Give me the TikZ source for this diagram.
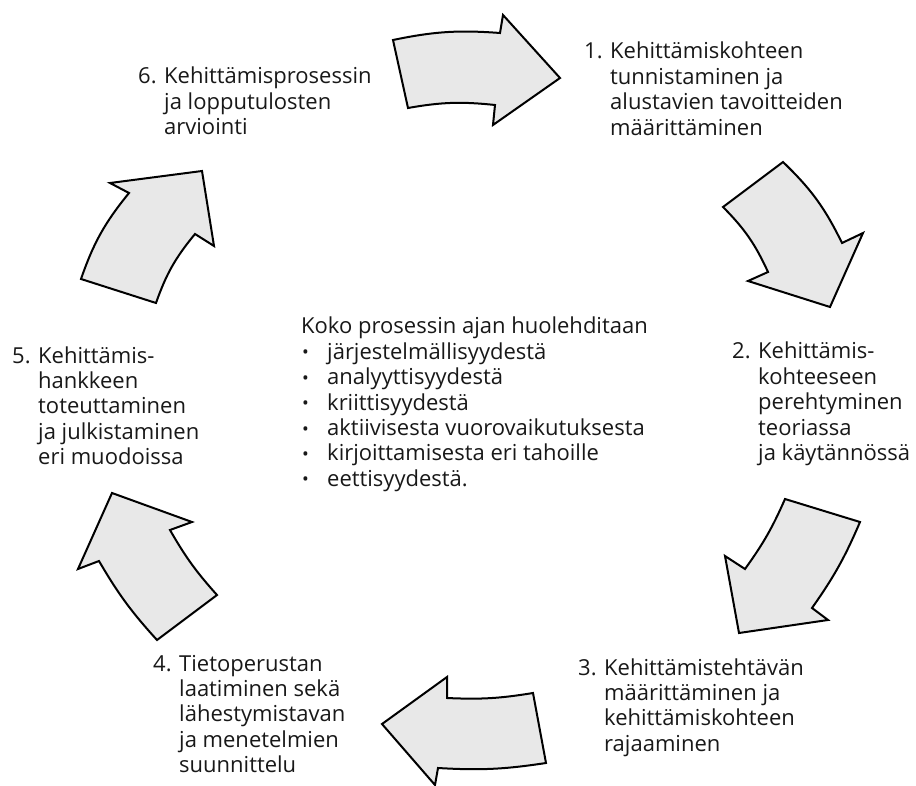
\documentclass[tikz,border=0pt]{standalone}
\usepackage{fontspec}
\setmainfont{Open Sans}
\definecolor{nuoliharmaa}{RGB}{232,232,232}
\definecolor{tekstimusta}{RGB}{24,24,24}
\tikzset{
  nuoli/.style={draw=black,line width=2pt,fill=nuoliharmaa,line join=miter},
  vaihe/.style={inner sep=0pt,anchor=base west,align=left,text=tekstimusta,
    font=\fontsize{22}{25.4}\selectfont},
}
\newcommand{\vaiheteksti}[2]{\begin{tabular}[t]{@{}l@{}}\makebox[26pt][l]{#1}\begin{tabular}[t]{@{}l@{}}#2\end{tabular}\end{tabular}}
\newcommand{\pallo}{\hspace*{1pt}\raisebox{0.5pt}{\fontsize{18}{18}\selectfont\textbullet}}

\begin{document}
\begin{tikzpicture}[x=1pt,y=-1pt]
  \useasboundingbox (0,0) rectangle (916,786);
  % nuolet myotapaivaan
  \draw[nuoli] (393,40) to[bend left=8] (500,33) -- (503,15) -- (560,78) -- (493,125) -- (495,105) to[bend right=8] (408,108) -- cycle;
  \draw[nuoli] (783,162) to[bend left=10] (842,243) -- (863,233) -- (830,307) -- (748,281) -- (768,272) to[bend right=10] (723,207) -- cycle;
  \draw[nuoli] (860,522) to[bend left=6] (812,608) -- (828,620) -- (739,633) -- (725,556) -- (745,569) to[bend right=6] (785,499) -- cycle;
  \draw[nuoli] (546,763) to[bend left=6] (438,768) -- (435,785) -- (382,724) -- (447,677) -- (447,698) to[bend right=6] (533,693) -- cycle;
  \draw[nuoli] (157,640) to[bend left=6] (99,561) -- (78,569) -- (112,493) -- (192,522) -- (170,530) to[bend right=6] (217,595) -- cycle;
  \draw[nuoli] (81,279) to[bend left=10] (129,193) -- (110,183) -- (202,171) -- (214,246) -- (195,234) to[bend right=10] (156,303) -- cycle;
  % vaiheet
  \node[vaihe] (vaihe1) at (584,59) {\vaiheteksti{1.}{Kehittämiskohteen\\tunnistaminen ja\\alustavien tavoitteiden\\määrittäminen}};
  \node[vaihe] (vaihe2) at (732,359) {\vaiheteksti{2.}{Kehittämis-\\kohteeseen\\perehtyminen\\teoriassa\\ja käytännössä}};
  \node[vaihe] (vaihe3) at (578,675) {\vaiheteksti{3.}{Kehittämistehtävän\\määrittäminen ja\\kehittämiskohteen\\rajaaminen}};
  \node[vaihe] (vaihe4) at (153,671) {\vaiheteksti{4.}{Tietoperustan\\laatiminen sekä\\lähestymistavan\\ja menetelmien\\suunnittelu}};
  \node[vaihe] (vaihe5) at (12,363) {\vaiheteksti{5.}{Kehittämis-\\hankkeen\\toteuttaminen\\ja julkistaminen\\eri muodoissa}};
  \node[vaihe] (vaihe6) at (138,84) {\vaiheteksti{6.}{Kehittämisprosessin\\ja lopputulosten\\arviointi}};
  % keskella
  \node[vaihe] (keskus) at (301,334) {\begin{tabular}[t]{@{}p{26pt}@{}l@{}}
    \multicolumn{2}{@{}l@{}}{Koko prosessin ajan huolehditaan}\\
    \pallo & järjestelmällisyydestä\\
    \pallo & analyyttisyydestä\\
    \pallo & kriittisyydestä\\
    \pallo & aktiivisesta vuorovaikutuksesta\\
    \pallo & kirjoittamisesta eri tahoille\\
    \pallo & eettisyydestä.
  \end{tabular}};
\end{tikzpicture}
\end{document}
